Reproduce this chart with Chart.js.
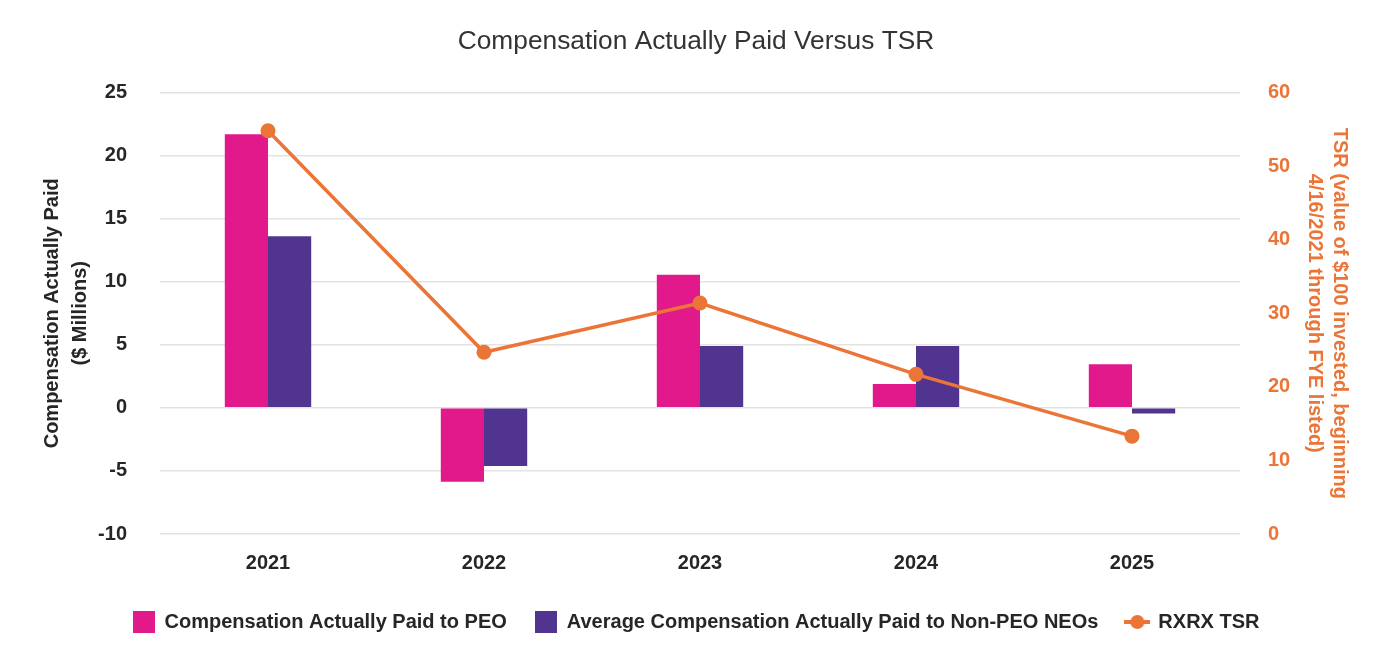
<!DOCTYPE html>
<html>
<head>
<meta charset="utf-8">
<script src="https://cdn.jsdelivr.net/npm/chart.js@4.4.1/dist/chart.umd.min.js"></script>
<style>
    html, body { margin: 0; padding: 0; background: #fff; }
    #wrap { width: 1392px; height: 672px; }
</style>
</head>
<body>
<div id="wrap"><canvas id="myChart" width="1392" height="672"></canvas></div>
<script>
const years = ['2021', '2022', '2023', '2024', '2025'];
const peoPaid = [21.7, -5.85, 10.55, 1.9, 3.45];
const neoPaid = [13.6, -4.6, 4.9, 4.9, -0.45];
const tsr = [54.8, 24.7, 31.4, 21.7, 13.3];
const leftTicks = [-10, 25, 5];
const rightTicks = [0, 60, 10];

const PINK = '#E2198A';
const PURPLE = '#51348F';
const ORANGE = '#EB7437';
const TEXT = '#262626';

// small legend markers
function rectMarker(color) {
    const c = document.createElement('canvas');
    c.width = 22;
    c.height = 22;
    const g = c.getContext('2d');
    g.fillStyle = color;
    g.fillRect(0, 0, 22, 22);
    return c;
}

function lineMarker(color) {
    const c = document.createElement('canvas');
    c.width = 26;
    c.height = 16;
    const g = c.getContext('2d');
    g.strokeStyle = color;
    g.lineWidth = 4;
    g.beginPath();
    g.moveTo(0, 8);
    g.lineTo(26, 8);
    g.stroke();
    g.fillStyle = color;
    g.beginPath();
    g.arc(13, 8, 7, 0, Math.PI * 2);
    g.fill();
    return c;
}

const markers = [rectMarker(PINK), rectMarker(PURPLE), lineMarker(ORANGE)];

Chart.defaults.font.family = '"Liberation Sans", Arial, sans-serif';
Chart.defaults.color = TEXT;

var ctx = document.getElementById('myChart').getContext('2d');
var chart = new Chart(ctx, { //eslint-disable-line
    type: 'bar',
    data: {
        labels: years,
        datasets: [
            {
                type: 'line',
                label: 'RXRX TSR',
                data: tsr,
                yAxisID: 'y1',
                borderColor: ORANGE,
                backgroundColor: ORANGE,
                borderWidth: 3.5,
                pointRadius: 7.5,
                pointHoverRadius: 7.5,
                pointBorderWidth: 0,
                tension: 0,
                order: 0,
            },
            {
                label: 'Compensation Actually Paid to PEO',
                data: peoPaid,
                yAxisID: 'y',
                backgroundColor: PINK,
                categoryPercentage: 0.4,
                barPercentage: 1,
                order: 1,
            },
            {
                label: 'Average Compensation Actually Paid to Non-PEO NEOs',
                data: neoPaid,
                yAxisID: 'y',
                backgroundColor: PURPLE,
                categoryPercentage: 0.4,
                barPercentage: 1,
                order: 1,
            },
        ]
    },
    options: {
        responsive: false,
        animation: false,
        layout: { padding: { left: 33, right: 33, top: 0, bottom: 30 } },
        plugins: {
            title: {
                display: true,
                text: 'Compensation Actually Paid Versus TSR',
                color: '#333',
                font: { size: 26.3, weight: 'normal' },
                padding: { top: 26, bottom: 35 },
            },
            legend: {
                position: 'bottom',
                labels: {
                    usePointStyle: true,
                    pointStyleWidth: 22,
                    padding: 28,
                    color: TEXT,
                    font: { size: 20, weight: 'bold' },
                    generateLabels: (chart) => {
                        const order = [1, 2, 0];
                        return order.map((i, k) => ({
                            text: chart.data.datasets[i].label,
                            pointStyle: markers[k],
                            datasetIndex: i,
                            fontColor: TEXT,
                            lineWidth: 0,
                            hidden: false,
                        }));
                    },
                },
            },
            tooltip: { enabled: false },
        },
        scales: {
            x: {
                grid: { display: false },
                border: { display: false },
                ticks: { color: TEXT, font: { size: 20, weight: 'bold' }, padding: 9 },
            },
            y: {
                position: 'left',
                min: leftTicks[0],
                max: leftTicks[1],
                afterFit: (scale) => { scale.width = 127; },
                ticks: { stepSize: leftTicks[2], color: TEXT, padding: 33, font: { size: 20, weight: 'bold' } },
                grid: { color: '#E3E3E3', lineWidth: 1.5, drawTicks: false },
                border: { display: false },
                title: {
                    display: true,
                    text: ['Compensation Actually Paid', '($ Millions)'],
                    color: TEXT,
                    font: { size: 20, weight: 'bold', lineHeight: 1.4 },
                    padding: { top: 5, bottom: 3 },
                },
            },
            y1: {
                position: 'right',
                min: rightTicks[0],
                max: rightTicks[1],
                afterFit: (scale) => { scale.width = 119; },
                ticks: { stepSize: rightTicks[2], color: ORANGE, padding: 28, font: { size: 20, weight: 'bold' } },
                grid: { display: false, drawTicks: false },
                border: { display: false },
                title: {
                    display: true,
                    text: ['TSR (value of $100 invested, beginning', '4/16/2021 through FYE listed)'],
                    color: ORANGE,
                    font: { size: 20, weight: 'bold', lineHeight: 1.25 },
                    padding: { top: 7, bottom: 0 },
                },
            },
        },
    },
});
</script>
</body>
</html>
